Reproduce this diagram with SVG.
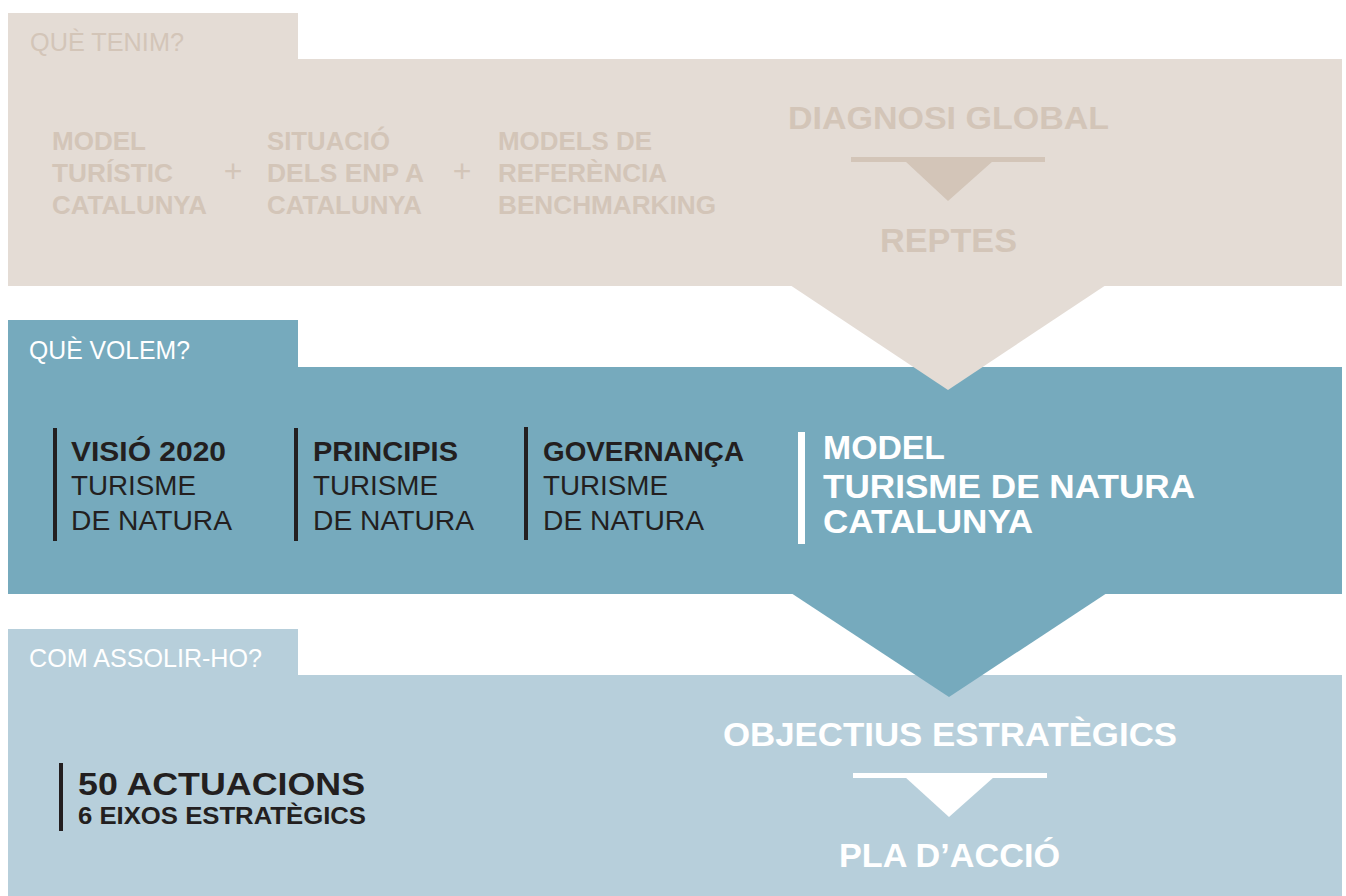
<svg xmlns="http://www.w3.org/2000/svg" width="1346" height="896" viewBox="0 0 1346 896">
<style>
text{font-family:"Liberation Sans",Arial,sans-serif}
.b{font-weight:bold}
.beige{fill:#e4dcd5}
.teal{fill:#76aabd}
.light{fill:#b7cfdb}
.tb{fill:#d3c5b8}
.dk{fill:#231f20}
.wh{fill:#ffffff}
.tab{font-size:25px}
.s1{font-size:25px;font-weight:bold;fill:#d3c5b8}
.col{font-size:28px;fill:#231f20}
.big{font-size:33px;font-weight:bold}
.mid{text-anchor:middle}
</style>
<rect width="1346" height="896" fill="#ffffff"/>

<g id="section-tenim">
<rect class="beige" x="8" y="13" width="290" height="47"/>
<rect class="beige" x="8" y="59" width="1334" height="227"/>
<text class="tab tb" x="30" y="51" textLength="154" lengthAdjust="spacingAndGlyphs">QUÈ TENIM?</text>
</g>

<g id="node-model-turistic">
<text class="s1" x="52" y="150" textLength="94" lengthAdjust="spacingAndGlyphs">MODEL</text>
<text class="s1" x="52" y="182" textLength="121" lengthAdjust="spacingAndGlyphs">TURÍSTIC</text>
<text class="s1" x="52" y="214" textLength="155" lengthAdjust="spacingAndGlyphs">CATALUNYA</text>
</g>
<g id="plus-1"><text class="tb mid" x="233" y="182" font-size="32">+</text></g>
<g id="node-situacio">
<text class="s1" x="267" y="150" textLength="123" lengthAdjust="spacingAndGlyphs">SITUACIÓ</text>
<text class="s1" x="267" y="182" textLength="157" lengthAdjust="spacingAndGlyphs">DELS ENP A</text>
<text class="s1" x="267" y="214" textLength="155" lengthAdjust="spacingAndGlyphs">CATALUNYA</text>
</g>
<g id="plus-2"><text class="tb mid" x="462" y="182" font-size="32">+</text></g>
<g id="node-models-referencia">
<text class="s1" x="498" y="150" textLength="154" lengthAdjust="spacingAndGlyphs">MODELS DE</text>
<text class="s1" x="498" y="182" textLength="169" lengthAdjust="spacingAndGlyphs">REFERÈNCIA</text>
<text class="s1" x="498" y="214" textLength="218" lengthAdjust="spacingAndGlyphs">BENCHMARKING</text>
</g>
<g id="node-diagnosi">
<text class="b tb" x="788" y="129" font-size="32" textLength="321" lengthAdjust="spacingAndGlyphs">DIAGNOSI GLOBAL</text>
</g>
<g id="node-reptes">
<text class="b tb" x="880" y="252" font-size="33" textLength="137" lengthAdjust="spacingAndGlyphs">REPTES</text>
</g>

<g id="section-volem">
<rect class="teal" x="8" y="320" width="290" height="48"/>
<rect class="teal" x="8" y="367" width="1334" height="227"/>
<text class="tab wh" x="29" y="359" textLength="161" lengthAdjust="spacingAndGlyphs">QUÈ VOLEM?</text>
</g>
<g id="node-visio">
<rect class="dk" x="53" y="428" width="4" height="113"/>
<text class="col b" x="71" y="461" textLength="155" lengthAdjust="spacingAndGlyphs">VISIÓ 2020</text>
<text class="col" x="71" y="495" textLength="125" lengthAdjust="spacingAndGlyphs">TURISME</text>
<text class="col" x="71" y="530" textLength="161" lengthAdjust="spacingAndGlyphs">DE NATURA</text>
</g>
<g id="node-principis">
<rect class="dk" x="294" y="428" width="4" height="113"/>
<text class="col b" x="313" y="461" textLength="145" lengthAdjust="spacingAndGlyphs">PRINCIPIS</text>
<text class="col" x="313" y="495" textLength="125" lengthAdjust="spacingAndGlyphs">TURISME</text>
<text class="col" x="313" y="530" textLength="161" lengthAdjust="spacingAndGlyphs">DE NATURA</text>
</g>
<g id="node-governanca">
<rect class="dk" x="524" y="427" width="4" height="113"/>
<text class="col b" x="543" y="461" textLength="201" lengthAdjust="spacingAndGlyphs">GOVERNANÇA</text>
<text class="col" x="543" y="495" textLength="125" lengthAdjust="spacingAndGlyphs">TURISME</text>
<text class="col" x="543" y="530" textLength="161" lengthAdjust="spacingAndGlyphs">DE NATURA</text>
</g>
<g id="node-model-turisme-natura">
<rect class="wh" x="798" y="432" width="7" height="112"/>
<text class="big wh" x="823" y="459" textLength="122" lengthAdjust="spacingAndGlyphs">MODEL</text>
<text class="big wh" x="823" y="498" textLength="372" lengthAdjust="spacingAndGlyphs">TURISME DE NATURA</text>
<text class="big wh" x="823" y="533" textLength="210" lengthAdjust="spacingAndGlyphs">CATALUNYA</text>
</g>

<g id="section-assolir">
<rect class="light" x="8" y="629" width="290" height="47"/>
<rect class="light" x="8" y="675" width="1334" height="221"/>
<text class="tab wh" x="29" y="667" textLength="233" lengthAdjust="spacingAndGlyphs">COM ASSOLIR-HO?</text>
</g>
<g id="node-actuacions">
<rect class="dk" x="59" y="763" width="4" height="68"/>
<text class="b dk" x="78" y="795" font-size="32" textLength="287" lengthAdjust="spacingAndGlyphs">50 ACTUACIONS</text>
<text class="b dk" x="78" y="824" font-size="24" textLength="288" lengthAdjust="spacingAndGlyphs">6 EIXOS ESTRATÈGICS</text>
</g>
<g id="node-objectius">
<text class="b wh" x="723" y="746" font-size="34" textLength="454" lengthAdjust="spacingAndGlyphs">OBJECTIUS ESTRATÈGICS</text>
</g>
<g id="node-pla">
<text class="b wh" x="839" y="867" font-size="34" textLength="221" lengthAdjust="spacingAndGlyphs">PLA D’ACCIÓ</text>
</g>

<g id="connectors">
<polygon class="beige" points="790,285 1106,285 948,390"/>
<rect class="tb" x="851" y="157" width="194" height="5"/>
<polygon class="tb" points="905,161 993,161 948,201"/>
<polygon class="teal" points="791,593 1107,593 949,697"/>
<rect class="wh" x="853" y="773" width="194" height="5"/>
<polygon class="wh" points="905,777 994,777 949,817"/>
</g>
</svg>
